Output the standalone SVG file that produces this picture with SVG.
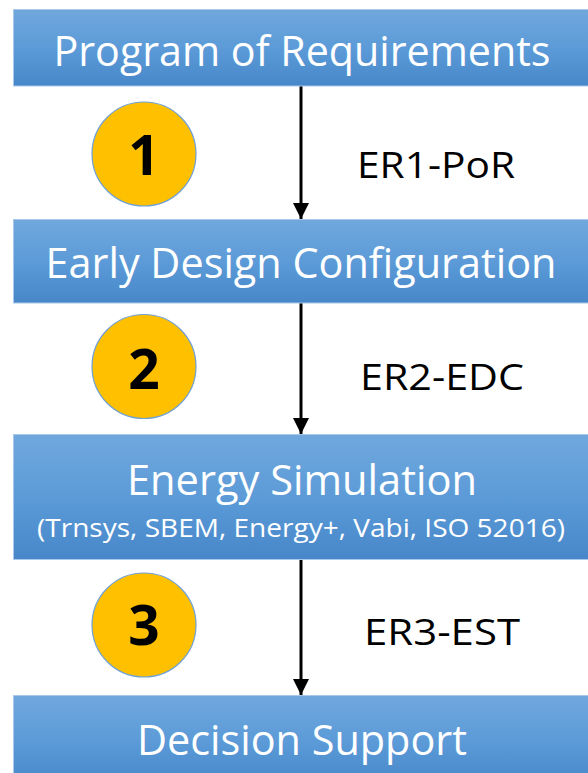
<svg xmlns="http://www.w3.org/2000/svg" width="588" height="773" viewBox="0 0 588 773">
<defs>
<linearGradient id="boxg" x1="0" y1="0" x2="0" y2="1">
<stop offset="0" stop-color="#70a8dd"/>
<stop offset="0.5" stop-color="#5c9bd8"/>
<stop offset="1" stop-color="#4787c9"/>
</linearGradient>
<marker id="ah" markerWidth="16" markerHeight="16" refX="16" refY="8" orient="auto" markerUnits="userSpaceOnUse">
<path d="M0,0 L16,8 L0,16 Z" fill="#000"/>
</marker>
</defs>
<style>
.box{fill:url(#boxg);stroke:#a9c8ea;stroke-width:1}
.bt{font-family:"Open Sans","Noto Sans","DejaVu Sans",sans-serif;fill:#fff;text-anchor:middle}
.lbl{font-family:"Open Sans","Noto Sans","DejaVu Sans",sans-serif;fill:#000;text-anchor:middle}
.num{font-family:"Open Sans","Noto Sans","DejaVu Sans",sans-serif;font-weight:bold;fill:#000;text-anchor:middle;font-size:55px}
.circ{fill:#ffc000;stroke:#6fa0d4;stroke-width:1.2}
.conn{stroke:#000;stroke-width:3;fill:none;marker-end:url(#ah)}
</style>
<rect width="588" height="773" fill="#fff"/>
<g id="connectors">
<line class="conn" x1="301" y1="86" x2="301" y2="219"/>
<line class="conn" x1="301" y1="303" x2="301" y2="434"/>
<line class="conn" x1="301" y1="560" x2="301" y2="695"/>
</g>
<g id="node-por">
<rect class="box" x="13.5" y="9.5" width="580" height="76.5"/>
<text class="bt" x="302" y="66" font-size="42" textLength="497" lengthAdjust="spacingAndGlyphs">Program of Requirements</text>
</g>
<g id="node-edc">
<rect class="box" x="13.5" y="219.5" width="580" height="83.5"/>
<text class="bt" x="301" y="278" font-size="42" textLength="511" lengthAdjust="spacingAndGlyphs">Early Design Configuration</text>
</g>
<g id="node-es">
<rect class="box" x="13.5" y="434.5" width="580" height="125"/>
<text class="bt" x="302" y="495" font-size="42" textLength="350" lengthAdjust="spacingAndGlyphs">Energy Simulation</text>
<text class="bt" x="301" y="537" font-size="25" textLength="528" lengthAdjust="spacingAndGlyphs">(Trnsys, SBEM, Energy+, Vabi, ISO 52016)</text>
</g>
<g id="node-ds">
<rect class="box" x="13.5" y="695.5" width="580" height="90"/>
<text class="bt" x="302" y="755" font-size="42" textLength="330" lengthAdjust="spacingAndGlyphs">Decision Support</text>
</g>
<g id="step1">
<circle class="circ" cx="144" cy="154" r="52"/>
<text class="num" x="144" y="175">1</text>
</g>
<g id="step2">
<circle class="circ" cx="144" cy="366.5" r="52"/>
<text class="num" x="144" y="389">2</text>
</g>
<g id="step3">
<circle class="circ" cx="144" cy="625" r="52"/>
<text class="num" x="144" y="645">3</text>
</g>
<g id="labels">
<text class="lbl" x="436" y="178" font-size="36" textLength="158" lengthAdjust="spacingAndGlyphs">ER1-PoR</text>
<text class="lbl" x="442" y="390" font-size="36" textLength="164" lengthAdjust="spacingAndGlyphs">ER2-EDC</text>
<text class="lbl" x="442" y="645" font-size="36" textLength="156" lengthAdjust="spacingAndGlyphs">ER3-EST</text>
</g>
</svg>
